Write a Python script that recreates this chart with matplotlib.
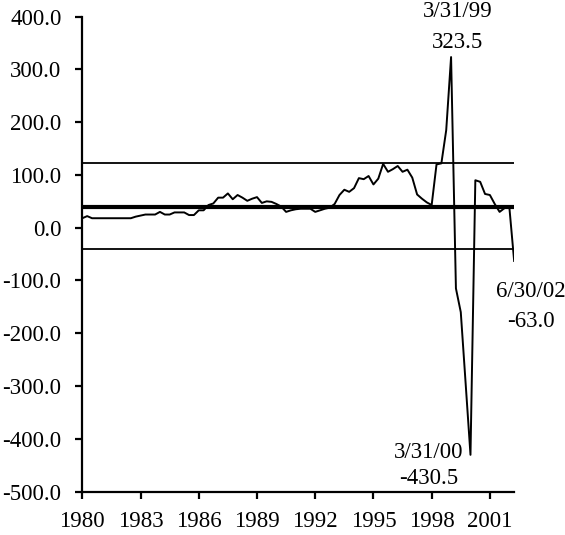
import matplotlib
matplotlib.use("Agg")
import matplotlib.pyplot as plt
import numpy as np

# quarterly values, 3/31/80 .. 6/30/02
values = [
    18, 22, 18, 18, 18, 18, 18, 18, 18, 18,      # 1980-82
    18, 21, 23, 25, 25, 25, 30, 25, 25, 29,      # 1982-84
    29, 29, 24, 24, 33, 33, 43, 46, 57, 57,      # 1985-87
    65, 54, 62, 57, 51, 55, 58, 47, 50, 49,      # 1987-89
    45, 40, 30, 33, 35, 36, 36, 36, 30, 33,      # 1990-92
    36, 38, 45, 62, 72, 68, 75, 94, 92, 98,      # 1992-94
    82, 93, 121, 106, 111, 117, 106, 110, 95, 63,  # 1995-97
    55, 48, 43, 120, 122, 185, 323.5, -115, -160, -295,  # 1997-99
    -430.5, 90, 87, 64, 62, 45, 30, 37, 40, -63.0,       # 2000-02
]
mean_level = 39.5
upper_band = 122.0
lower_band = -41.0

tick_years = [1980, 1983, 1986, 1989, 1992, 1995, 1998, 2001]
y_ticks = [400, 300, 200, 100, 0, -100, -200, -300, -400, -500]

# callouts: (quarter index, date text, value text)
callouts = [
    (76, "3/31/99", "323.5"),
    (80, "3/31/00", "-430.5"),
    (89, "6/30/02", "-63.0"),
]

plt.rcParams["font.family"] = ["Liberation Serif", "DejaVu Serif"]
plt.rcParams["font.size"] = 16.5
plt.rcParams["axes.unicode_minus"] = False

x = np.arange(len(values))

fig = plt.figure(figsize=(5.65, 5.35), dpi=100)
ax = fig.add_axes([0.1457, 0.0813, 0.7643, 0.8875])

ax.plot(x, values, color="black", lw=1.4, zorder=3)
ax.plot([x[0], x[-1]], [upper_band, upper_band], color="black", lw=1.3)
ax.plot([x[0], x[-1]], [lower_band, lower_band], color="black", lw=1.3)
ax.plot([x[0], x[-1]], [mean_level, mean_level], color="black", lw=3.0)

ax.set_xlim(0, len(values) - 1)
ax.set_ylim(-500, 400)
ax.set_yticks(y_ticks)
ax.set_yticklabels([f"{v:.1f}" for v in y_ticks])
ax.set_xticks([(yr - 1980) * 4 for yr in tick_years])
ax.set_xticklabels([str(yr) for yr in tick_years])

for side in ["top", "right"]:
    ax.spines[side].set_visible(False)
for side in ["left", "bottom"]:
    ax.spines[side].set_linewidth(1.6)
ax.tick_params(axis="y", direction="out", length=5, width=1.6, pad=10)
ax.tick_params(axis="x", direction="out", length=5, width=1.6, pad=9)

# date / value callouts next to the extreme points
text_pos = {
    "3/31/99": (77.4, 410, 352),
    "3/31/00": (71.4, -427, -476),
    "6/30/02": (92.5, -120, -177),
}
for idx, date, val in callouts:
    tx, y1, y2 = text_pos[date]
    ax.text(tx, y1, date, ha="center", va="center", clip_on=False)
    ax.text(tx, y2, val, ha="center", va="center", clip_on=False)

fig.savefig("out.png", dpi=100)
